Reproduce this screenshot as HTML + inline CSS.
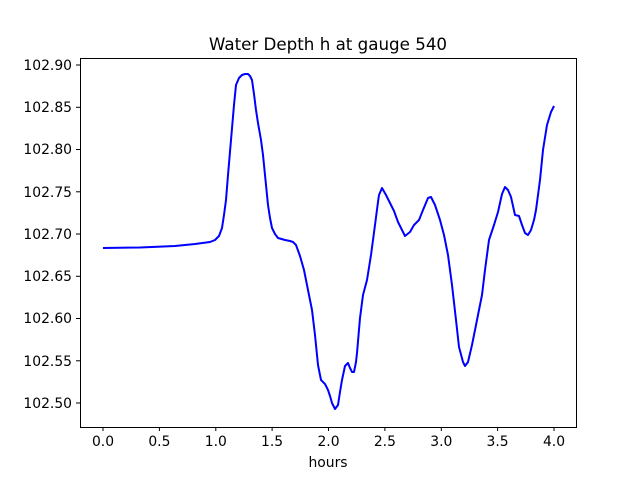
<!DOCTYPE html>
<html><head><meta charset="utf-8"><style>html,body{margin:0;padding:0;background:#fff}</style></head>
<body>
<svg width="640" height="480" xmlns="http://www.w3.org/2000/svg" font-family="DejaVu Sans, Liberation Sans, sans-serif">
<rect width="640" height="480" fill="#fff"/>
<text x="328" y="50" font-size="16.7" text-anchor="middle" fill="#000">Water Depth h at gauge 540</text>
<polyline fill="none" stroke="#0000ff" stroke-width="2" stroke-linejoin="round" points="103,248 140,247.5 175,246 195,244 210,242 215,240 219,236 222,228 224,215 226,200 228,175 231,140 234,105 236,85 239,78 242,75 245,74 248,74 250,76 252,80 254,94 256,110 258,123 261,140 263,155 265,175 268,205 270,218 272,228 275,234 278,238 285,240 290,241 293,242 296,245 300,256 304,270 308,290 312,310 315,335 317,355 318,365 321,380 325,384 328,390 330,396 332,403 335,409 338,405 340,392 342,380 345,366 348,363 350,368 352,372 354,372 356,362 357,353 360,318 363,295 367,280 371,255 375,225 378,202 379,195 382,188 386,195 390,203 394,211 398,222 403,232 405,236 410,232 414,225 419,220 423,210 428,198 431,197 435,205 440,220 444,235 448,255 452,285 456,320 459,347 463,362 465,366 468,362 472,345 477,320 482,295 485,270 489,240 494,225 498,212 502,194 505,187 508,190 511,197 515,215 519,216 522,225 525,233 528,235 531,230 534,220 536,210 540,180 543,150 547,125 551,112 554,106"/>
<rect x="80.5" y="58.5" width="496" height="369" fill="none" stroke="#000" stroke-width="1"/>
<g stroke="#000" stroke-width="1">
<line x1="103" y1="427" x2="103" y2="431"/><line x1="159.4" y1="427" x2="159.4" y2="431"/><line x1="215.8" y1="427" x2="215.8" y2="431"/><line x1="272.1" y1="427" x2="272.1" y2="431"/><line x1="328.5" y1="427" x2="328.5" y2="431"/><line x1="384.9" y1="427" x2="384.9" y2="431"/><line x1="441.3" y1="427" x2="441.3" y2="431"/><line x1="497.6" y1="427" x2="497.6" y2="431"/><line x1="554" y1="427" x2="554" y2="431"/>
<line x1="76" y1="65" x2="80" y2="65"/><line x1="76" y1="107.3" x2="80" y2="107.3"/><line x1="76" y1="149.5" x2="80" y2="149.5"/><line x1="76" y1="191.8" x2="80" y2="191.8"/><line x1="76" y1="234" x2="80" y2="234"/><line x1="76" y1="276.3" x2="80" y2="276.3"/><line x1="76" y1="318.5" x2="80" y2="318.5"/><line x1="76" y1="360.8" x2="80" y2="360.8"/><line x1="76" y1="403" x2="80" y2="403"/>
</g>
<g font-size="13.9" fill="#000" text-anchor="middle">
<text x="103" y="446">0.0</text><text x="159.4" y="446">0.5</text><text x="215.8" y="446">1.0</text><text x="272.1" y="446">1.5</text><text x="328.5" y="446">2.0</text><text x="384.9" y="446">2.5</text><text x="441.3" y="446">3.0</text><text x="497.6" y="446">3.5</text><text x="554" y="446">4.0</text>
<text x="328" y="467">hours</text>
</g>
<g font-size="13.9" fill="#000" text-anchor="end">
<text x="72" y="70">102.90</text><text x="72" y="112">102.85</text><text x="72" y="154">102.80</text><text x="72" y="197">102.75</text><text x="72" y="239">102.70</text><text x="72" y="281">102.65</text><text x="72" y="323">102.60</text><text x="72" y="366">102.55</text><text x="72" y="408">102.50</text>
</g>
</svg>
</body></html>
